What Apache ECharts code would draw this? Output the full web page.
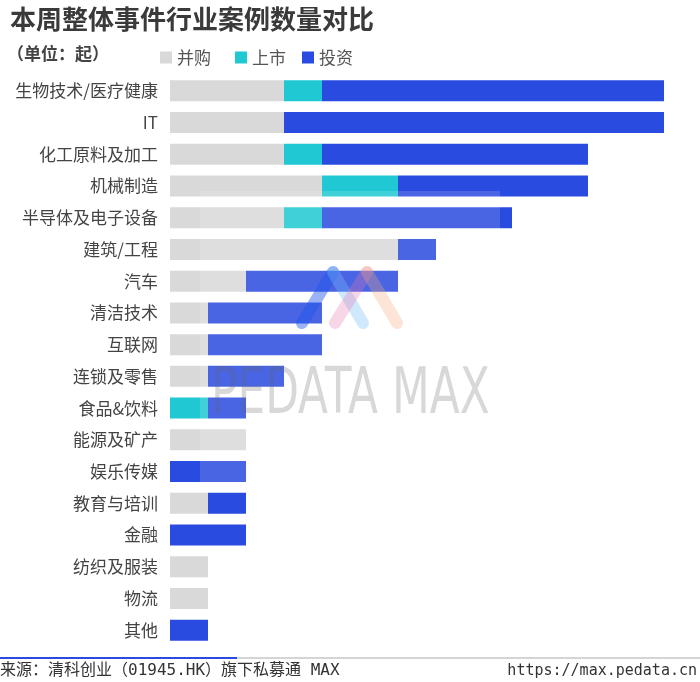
<!DOCTYPE html>
<html><head><meta charset="utf-8">
<script src="https://cdn.jsdelivr.net/npm/echarts@6/dist/echarts.min.js"></script>
<style>html,body{margin:0;padding:0;background:#fff}#c{width:700px;height:682px}</style>
</head><body><div id="c"></div>
<script>
const categories = ['生物技术/医疗健康','IT','化工原料及加工','机械制造','半导体及电子设备','建筑/工程','汽车','清洁技术','互联网','连锁及零售','食品&饮料','能源及矿产','娱乐传媒','教育与培训','金融','纺织及服装','物流','其他'];
const mergers = [3,3,3,4,3,6,2,1,1,1,0,2,0,1,0,1,1,0];
const ipos    = [1,0,1,2,1,0,0,0,0,0,1,0,0,0,0,0,0,0];
const invest  = [9,10,7,5,5,1,4,3,3,2,1,0,2,1,2,0,0,1];
const seriesNames = ['并购','上市','投资'];
const colors = ['#d9d9d9','#1fc8d2','#2a4be0'];
const F = '"Noto Sans CJK SC", "Noto Sans", sans-serif';
const nz = a => a.map(v => v === 0 ? '-' : v);
const legendLefts = [155, 230, 297];
const chart = echarts.init(document.getElementById('c'));
chart.setOption({
  animation: false,
  title: [{text:'本周整体事件行业案例数量对比', left: 5, top: 1, textStyle:{fontFamily:F, fontSize:26, fontWeight:'bold', color:'#3a3a3a'}},
          {text:'（单位：起）', left: 2, top: 40, textStyle:{fontFamily:F, fontSize:17, fontWeight:'bold', color:'#444'}}],
  legend: seriesNames.map((n,i) => ({left: legendLefts[i], top: 44, itemWidth: 12, itemHeight: 12, itemGap: 5, icon: 'rect',
    textStyle:{fontFamily:F, fontSize:17, color:'#555'}, data: [n]})),
  grid: {left: 170, right: 36, top: 75, bottom: 36, containLabel: false},
  xAxis: {type:'value', min:0, max:13, show:false},
  yAxis: {type:'category', data: categories, inverse: true,
    axisLine:{show:false}, axisTick:{show:false},
    axisLabel:{fontFamily:F, fontSize:17, color:'#444', margin:12}},
  series: [mergers, ipos, invest].map((d,i) => ({
    name: seriesNames[i], type:'bar', stack:'all', data: nz(d), barWidth: 21,
    itemStyle:{color: colors[i]}
  })),
  graphic: [
    {type:'rect', shape:{x:200,y:191,width:300,height:294}, style:{fill:'rgba(255,255,255,0.15)'}, z:100},
    {type:'polyline', shape:{points:[[302,323],[333,272]]}, style:{stroke:'rgba(30,85,235,0.45)', lineWidth:12, lineCap:'round', fill:null}, z:101},
    {type:'polyline', shape:{points:[[333,272],[363,323]]}, style:{stroke:'rgba(120,190,245,0.35)', lineWidth:12, lineCap:'round', fill:null}, z:101},
    {type:'polyline', shape:{points:[[335,323],[367,272]]}, style:{stroke:'rgba(230,120,175,0.3)', lineWidth:12, lineCap:'round', fill:null}, z:101},
    {type:'polyline', shape:{points:[[367,272],[397,323]]}, style:{stroke:'rgba(245,170,120,0.3)', lineWidth:12, lineCap:'round', fill:null}, z:101},
    {type:'text', x: 211, y: 364, scaleX: 0.685, style:{text:'PEDATA MAX', font:'64px "DejaVu Sans", sans-serif', fill:'rgba(100,100,100,0.25)'}, z:102},
    {type:'line', shape:{x1:0,y1:658,x2:700,y2:658}, style:{stroke:'#aaa', lineWidth:1}},
    {type:'line', shape:{x1:0,y1:658,x2:237,y2:658}, style:{stroke:'#2a4be0', lineWidth:2}},
    {type:'text', left: 0, top: 663, style:{text:'来源：清科创业（01945.HK）旗下私募通 MAX', font:'16px "DejaVu Sans Mono", "Noto Sans CJK SC", monospace', fill:'#333'}},
    {type:'text', right: 3, top: 664, style:{text:'https://max.pedata.cn', font:'15px "DejaVu Sans Mono", monospace', fill:'#333'}}
  ]
});
</script></body></html>
